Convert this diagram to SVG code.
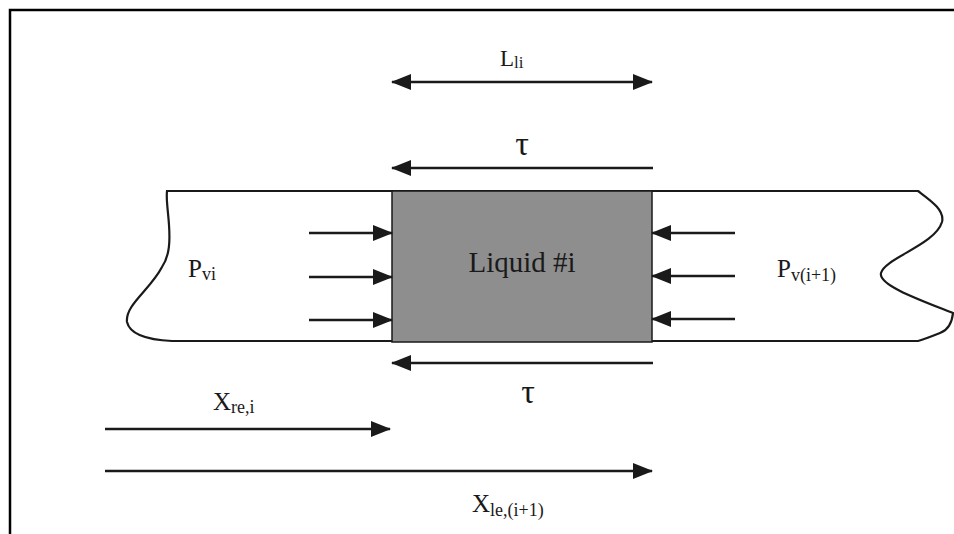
<svg xmlns="http://www.w3.org/2000/svg" width="954" height="534" viewBox="0 0 954 534">
<defs>
<style>
.ln{fill:none;stroke:#1a1a1a;stroke-width:2.5}
.tb{fill:none;stroke:#1a1a1a;stroke-width:2.2}
.t{font-family:"Liberation Serif","Times New Roman",serif;fill:#1a1a1a}
</style>
<marker id="ah" viewBox="0 0 20 16" refX="19" refY="8" markerWidth="20" markerHeight="16" markerUnits="userSpaceOnUse" orient="auto-start-reverse">
<path d="M0,0 L20,8 L0,16 z" fill="#1a1a1a"/>
</marker>
</defs>
<rect width="954" height="534" fill="#ffffff"/>
<path d="M10,534 V10 H954" fill="none" stroke="#000" stroke-width="2.5"/>

<g id="tube">
<path class="tb" d="M167,191 H918 C930,200 945,210 942,222 C935,245 885,258 881,273 C878,285 920,300 953,313 C952,322 948,330 940,333 C930,337 925,339 918,341 H172 C150,340 130,335 127,322 C125,305 150,290 162,267 C170,255 170,240 169,225 C168,210 166,200 167,191 Z"/>
</g>

<g id="liquid">
<rect x="392" y="191" width="260" height="151" fill="#8e8e8e" stroke="#1a1a1a" stroke-width="1.5"/>
<text class="t" x="522" y="272" font-size="29" text-anchor="middle">Liquid #i</text>
</g>

<g id="labels">
<text class="t" x="500" y="66" font-size="23">L<tspan font-size="17" dy="2">li</tspan></text>
<text class="t" x="522" y="155" font-size="34" text-anchor="middle">τ</text>
<text class="t" x="528" y="403" font-size="34" text-anchor="middle">τ</text>
<text class="t" x="188" y="277" font-size="25">P<tspan font-size="18" dy="3">vi</tspan></text>
<text class="t" x="777" y="277" font-size="25">P<tspan font-size="18" dy="4">v(i+1)</tspan></text>
<text class="t" x="213" y="410" font-size="25">X<tspan font-size="18" dy="3">re,i</tspan></text>
<text class="t" x="472" y="512" font-size="25">X<tspan font-size="18" dy="4">le,(i+1)</tspan></text>
</g>

<g id="connectors">
<line class="ln" x1="392" y1="82" x2="652" y2="82" marker-start="url(#ah)" marker-end="url(#ah)"/>
<line class="ln" x1="653" y1="168" x2="392" y2="168" marker-end="url(#ah)"/>
<line class="ln" x1="653" y1="363" x2="392" y2="363" marker-end="url(#ah)"/>
<line class="ln" x1="309" y1="233" x2="392" y2="233" marker-end="url(#ah)"/>
<line class="ln" x1="309" y1="277" x2="392" y2="277" marker-end="url(#ah)"/>
<line class="ln" x1="309" y1="320" x2="392" y2="320" marker-end="url(#ah)"/>
<line class="ln" x1="735" y1="233" x2="652" y2="233" marker-end="url(#ah)"/>
<line class="ln" x1="735" y1="276" x2="652" y2="276" marker-end="url(#ah)"/>
<line class="ln" x1="735" y1="319" x2="652" y2="319" marker-end="url(#ah)"/>
<line class="ln" x1="105" y1="429" x2="390" y2="429" marker-end="url(#ah)"/>
<line class="ln" x1="105" y1="471" x2="652" y2="471" marker-end="url(#ah)"/>
</g>
</svg>
